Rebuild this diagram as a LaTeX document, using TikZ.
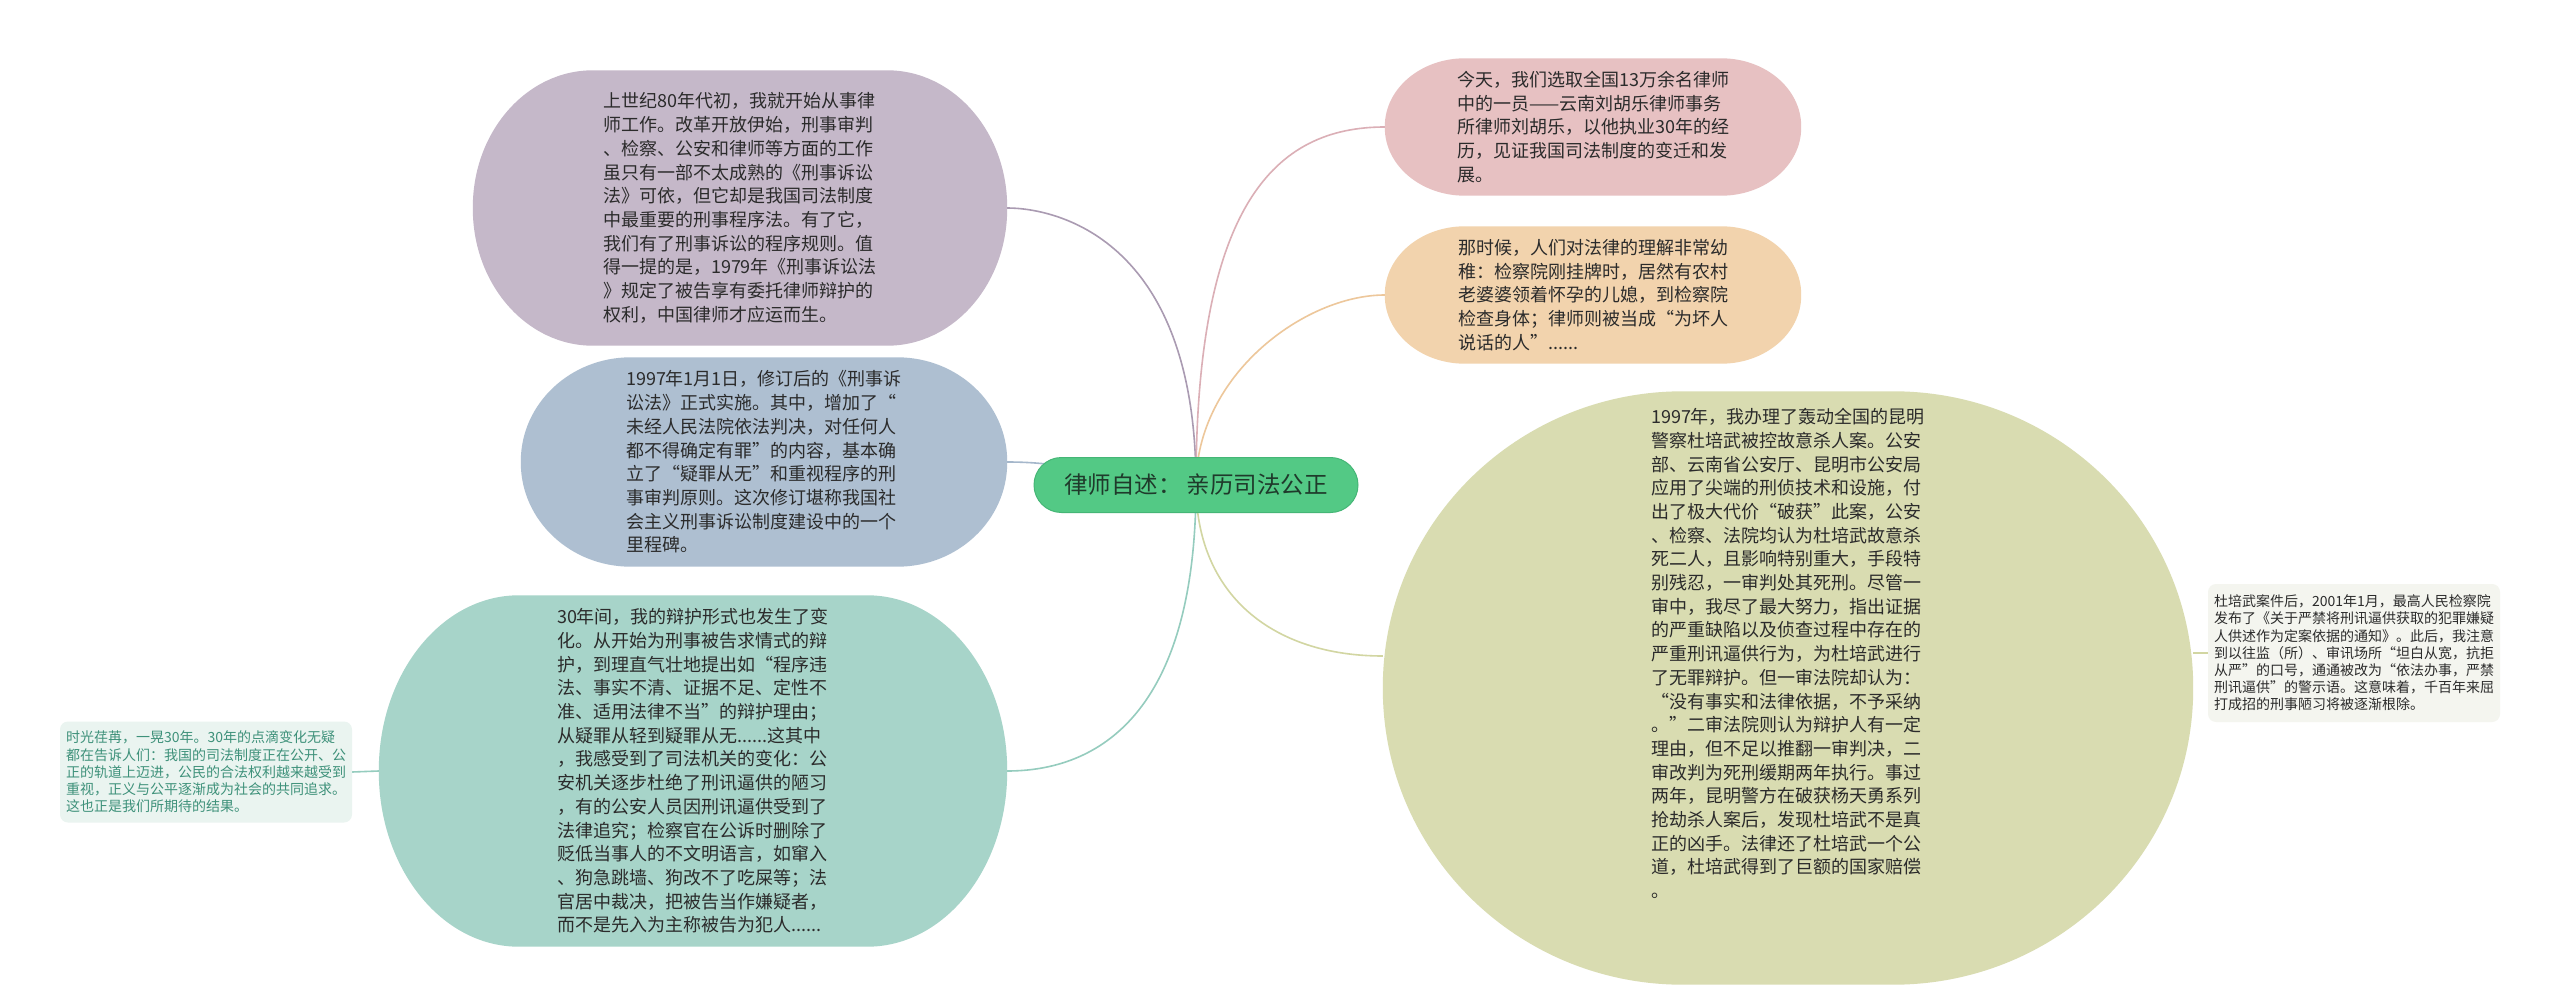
\documentclass[tikz,border=0pt]{standalone}
\usepackage{fontspec}
\setmainfont{Noto Sans CJK SC}
\usetikzlibrary{backgrounds}
\definecolor{purplefill}{HTML}{C5B8C9}
\definecolor{bluefill}{HTML}{AEBFD1}
\definecolor{tealfill}{HTML}{A7D4C9}
\definecolor{pinkfill}{HTML}{E7C1C2}
\definecolor{orangefill}{HTML}{F2D3AD}
\definecolor{olivefill}{HTML}{D9DCB1}
\definecolor{grayfill}{HTML}{F4F5EF}
\definecolor{leftfill}{HTML}{EAF4F0}
\definecolor{centerfill}{HTML}{53C985}
\definecolor{centerborder}{HTML}{45B676}
\definecolor{centertext}{HTML}{1F3A2B}
\definecolor{purpleline}{HTML}{AA9BB2}
\definecolor{pinkline}{HTML}{DBAFB6}
\definecolor{orangeline}{HTML}{EDC79B}
\definecolor{blueline}{HTML}{A5B7CB}
\definecolor{tealline}{HTML}{95CCBE}
\definecolor{oliveline}{HTML}{D2D6A2}
\definecolor{txtdark}{HTML}{2B2B2B}
\definecolor{lefttext}{HTML}{3E917A}
\newcommand\blobfill[4]{%
  \fill[#2] ([xshift=#3]#1.north west) -- ([xshift=-#3]#1.north east)
    arc[start angle=90,end angle=0,x radius=#3,y radius=#4]
    -- ([yshift=#4]#1.south east)
    arc[start angle=0,end angle=-90,x radius=#3,y radius=#4]
    -- ([xshift=#3]#1.south west)
    arc[start angle=270,end angle=180,x radius=#3,y radius=#4]
    -- ([yshift=-#4]#1.north west)
    arc[start angle=180,end angle=90,x radius=#3,y radius=#4]
    -- cycle;}
\begin{document}
\begin{tikzpicture}[x=1pt,y=-1pt,
  bigbox/.style={inner sep=0pt, align=left, text=txtdark, font=\fontsize{18pt}{23.7pt}\selectfont},
  smallbox/.style={inner sep=0pt, align=left, rounded corners=8pt, font=\fontsize{14pt}{17.2pt}\selectfont},
  link/.style={line width=1.6pt}]
\useasboundingbox (0,0) rectangle (2560,1008);

% central topic
\node[draw=centerborder, line width=1pt, fill=centerfill, rounded corners=27.5pt,
      minimum width=324pt, minimum height=55pt, inner sep=0pt,
      font=\fontsize{23.5pt}{28pt}\selectfont, text=centertext] (c) at (1196,485)
      {律师自述： 亲历司法公正};

% left branches
\node[bigbox, minimum width=534pt, minimum height=275pt] (purple) at (740,208)
{上世纪80年代初，我就开始从事律\\
师工作。改革开放伊始，刑事审判\\
、检察、公安和律师等方面的工作\\
虽只有一部不太成熟的《刑事诉讼\\
法》可依，但它却是我国司法制度\\
中最重要的刑事程序法。有了它，\\
我们有了刑事诉讼的程序规则。值\\
得一提的是，1979年《刑事诉讼法\\
》规定了被告享有委托律师辩护的\\
权利，中国律师才应运而生。};

\node[bigbox, minimum width=486pt, minimum height=209pt] (blue) at (764,462)
{1997年1月1日，修订后的《刑事诉\\
讼法》正式实施。其中，增加了“\\
未经人民法院依法判决，对任何人\\
都不得确定有罪”的内容，基本确\\
立了“疑罪从无”和重视程序的刑\\
事审判原则。这次修订堪称我国社\\
会主义刑事诉讼制度建设中的一个\\
里程碑。};

\node[bigbox, minimum width=628pt, minimum height=351pt] (teal) at (693,771)
{30年间，我的辩护形式也发生了变\\
化。从开始为刑事被告求情式的辩\\
护，到理直气壮地提出如“程序违\\
法、事实不清、证据不足、定性不\\
准、适用法律不当”的辩护理由；\\
从疑罪从轻到疑罪从无......这其中\\
，我感受到了司法机关的变化：公\\
安机关逐步杜绝了刑讯逼供的陋习\\
，有的公安人员因刑讯逼供受到了\\
法律追究；检察官在公诉时删除了\\
贬低当事人的不文明语言，如窜入\\
、狗急跳墙、狗改不了吃屎等；法\\
官居中裁决，把被告当作嫌疑者，\\
而不是先入为主称被告为犯人......};

\node[smallbox, fill=leftfill, text=lefttext, minimum width=292pt, minimum height=101pt] (left) at (206,772)
{时光荏苒，一晃30年。30年的点滴变化无疑\\
都在告诉人们：我国的司法制度正在公开、公\\
正的轨道上迈进，公民的合法权利越来越受到\\
重视，正义与公平逐渐成为社会的共同追求。\\
这也正是我们所期待的结果。};

% right branches
\node[bigbox, minimum width=416pt, minimum height=137pt] (pink) at (1593,127)
{今天，我们选取全国13万余名律师\\
中的一员——云南刘胡乐律师事务\\
所律师刘胡乐，以他执业30年的经\\
历，见证我国司法制度的变迁和发\\
展。};

\node[bigbox, minimum width=416pt, minimum height=137pt] (orange) at (1593,295)
{那时候，人们对法律的理解非常幼\\
稚：检察院刚挂牌时，居然有农村\\
老婆婆领着怀孕的儿媳，到检察院\\
检查身体；律师则被当成“为坏人\\
说话的人”......};

\node[bigbox, minimum width=810pt, minimum height=593pt, text depth=70pt] (olive) at (1788,688)
{1997年，我办理了轰动全国的昆明\\
警察杜培武被控故意杀人案。公安\\
部、云南省公安厅、昆明市公安局\\
应用了尖端的刑侦技术和设施，付\\
出了极大代价“破获”此案，公安\\
、检察、法院均认为杜培武故意杀\\
死二人，且影响特别重大，手段特\\
别残忍，一审判处其死刑。尽管一\\
审中，我尽了最大努力，指出证据\\
的严重缺陷以及侦查过程中存在的\\
严重刑讯逼供行为，为杜培武进行\\
了无罪辩护。但一审法院却认为：\\
“没有事实和法律依据，不予采纳\\
。”二审法院则认为辩护人有一定\\
理由，但不足以推翻一审判决，二\\
审改判为死刑缓期两年执行。事过\\
两年，昆明警方在破获杨天勇系列\\
抢劫杀人案后，发现杜培武不是真\\
正的凶手。法律还了杜培武一个公\\
道，杜培武得到了巨额的国家赔偿\\
。};

\node[smallbox, fill=grayfill, text=txtdark, minimum width=292pt, minimum height=138pt] (gray) at (2354,653)
{杜培武案件后，2001年1月，最高人民检察院\\
发布了《关于严禁将刑讯逼供获取的犯罪嫌疑\\
人供述作为定案依据的通知》。此后，我注意\\
到以往监（所）、审讯场所“坦白从宽，抗拒\\
从严”的口号，通通被改为“依法办事，严禁\\
刑讯逼供”的警示语。这意味着，千百年来屈\\
打成招的刑事陋习将被逐渐根除。};

\begin{scope}[on background layer]
  \fill[white] (0,0) rectangle (2560,1008);
  % connectors
  \draw[link, purpleline] (c.center) .. controls +(0,-250) and +(45,0) .. (purple.east);
  \draw[link, blueline] (c.center) .. controls +(-80,0) and +(80,0) .. (blue.east);
  \draw[link, tealline] (c.center) .. controls +(0,230) and +(90,0) .. (teal.east);
  \draw[link, tealline] (teal.west) -- (left.east);
  \draw[link, pinkline] (c.center) .. controls +(0,-280) and +(-110,0) .. (pink.west);
  \draw[link, orangeline] (c.center) .. controls +(0,-110) and +(-80,0) .. (orange.west);
  \draw[link, oliveline] (c.center) .. controls +(0,110) and +(-110,0) .. ([yshift=32pt]olive.west);
  \draw[link, oliveline] (gray.west -| olive.east) -- (gray.west);
  % branch shapes
  \blobfill{purple}{purplefill}{120pt}{137pt}
  \blobfill{blue}{bluefill}{110pt}{104pt}
  \blobfill{teal}{tealfill}{140pt}{175pt}
  \blobfill{pink}{pinkfill}{80pt}{68pt}
  \blobfill{orange}{orangefill}{80pt}{68pt}
  \blobfill{olive}{olivefill}{300pt}{296pt}
\end{scope}
\end{tikzpicture}
\end{document}
